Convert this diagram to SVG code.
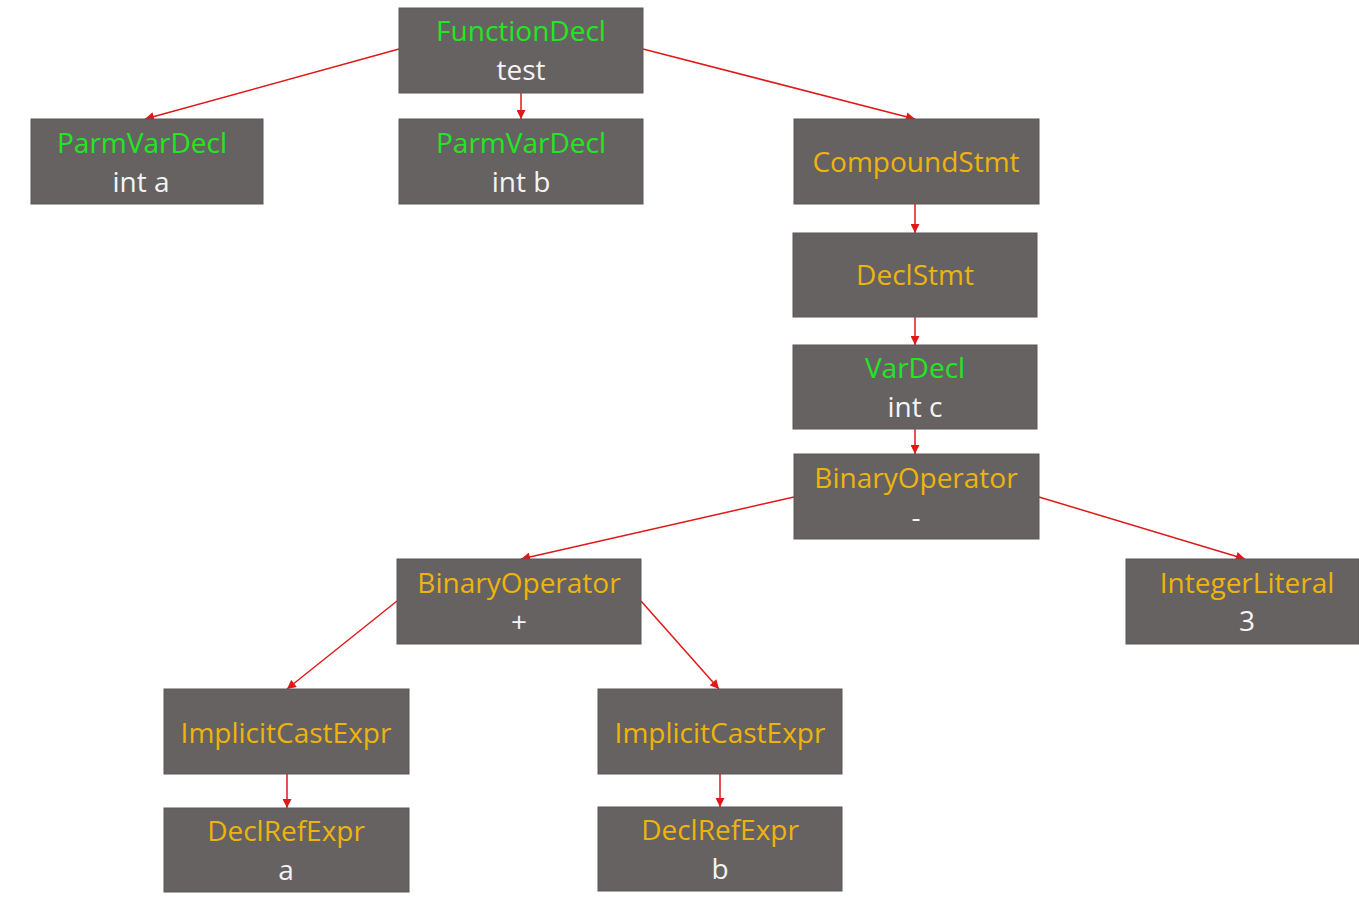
<svg xmlns="http://www.w3.org/2000/svg" width="1359" height="900" viewBox="0 0 1359 900">
<style>
.box{fill:#666262;stroke:#5a5656;stroke-width:1}
text{font-family:"Open Sans","Noto Sans",sans-serif;font-size:28px;text-anchor:middle;dominant-baseline:central}
.g{fill:#22e622}
.o{fill:#edb40c}
.w{fill:#f4f4f4}
.e{stroke:#e01818;stroke-width:1.5;fill:none;marker-end:url(#ah)}
</style>
<defs>
<marker id="ah" viewBox="0 0 10 10" refX="10" refY="5" markerWidth="10" markerHeight="9" orient="auto" markerUnits="userSpaceOnUse">
<path d="M0,0 L10,5 L0,10 z" fill="#e01818"/>
</marker>
</defs>
<rect width="1359" height="900" fill="#ffffff"/>
<g id="connectors">
<line class="e" x1="399" y1="49" x2="145" y2="119"/>
<line class="e" x1="521" y1="93" x2="521" y2="119"/>
<line class="e" x1="643" y1="49" x2="915" y2="119"/>
<line class="e" x1="915" y1="204" x2="915" y2="233"/>
<line class="e" x1="915" y1="317" x2="915" y2="345"/>
<line class="e" x1="915" y1="429" x2="915" y2="454"/>
<line class="e" x1="794" y1="497" x2="521" y2="559"/>
<line class="e" x1="1039" y1="497" x2="1245" y2="559"/>
<line class="e" x1="397" y1="601" x2="287" y2="689"/>
<line class="e" x1="641" y1="601" x2="719" y2="689"/>
<line class="e" x1="287" y1="774" x2="287" y2="808"/>
<line class="e" x1="720" y1="774" x2="720" y2="807"/>
</g>
<g id="n-functiondecl"><rect class="box" x="399" y="8" width="244" height="85"/><text class="g" x="521" y="30">FunctionDecl</text><text class="w" x="521" y="69">test</text></g>
<g id="n-parmvar-a"><rect class="box" x="31" y="119" width="232" height="85"/><text class="g" x="142" y="142">ParmVarDecl</text><text class="w" x="141" y="181">int a</text></g>
<g id="n-parmvar-b"><rect class="box" x="399" y="119" width="244" height="85"/><text class="g" x="521" y="142">ParmVarDecl</text><text class="w" x="521" y="181">int b</text></g>
<g id="n-compound"><rect class="box" x="794" y="119" width="245" height="85"/><text class="o" x="916" y="161">CompoundStmt</text></g>
<g id="n-declstmt"><rect class="box" x="793" y="233" width="244" height="84"/><text class="o" x="915" y="274">DeclStmt</text></g>
<g id="n-vardecl"><rect class="box" x="793" y="345" width="244" height="84"/><text class="g" x="915" y="367">VarDecl</text><text class="w" x="915" y="406">int c</text></g>
<g id="n-binop-minus"><rect class="box" x="794" y="454" width="245" height="85"/><text class="o" x="916" y="477">BinaryOperator</text><text class="w" x="916" y="516">-</text></g>
<g id="n-binop-plus"><rect class="box" x="397" y="559" width="244" height="85"/><text class="o" x="519" y="582">BinaryOperator</text><text class="w" x="519" y="621">+</text></g>
<g id="n-intlit"><rect class="box" x="1126" y="559" width="233" height="85"/><text class="o" x="1247" y="582">IntegerLiteral</text><text class="w" x="1247" y="620">3</text></g>
<g id="n-implicit-left"><rect class="box" x="164" y="689" width="245" height="85"/><text class="o" x="286" y="732">ImplicitCastExpr</text></g>
<g id="n-implicit-right"><rect class="box" x="598" y="689" width="244" height="85"/><text class="o" x="720" y="732">ImplicitCastExpr</text></g>
<g id="n-declref-a"><rect class="box" x="164" y="808" width="245" height="84"/><text class="o" x="286" y="830">DeclRefExpr</text><text class="w" x="286" y="869">a</text></g>
<g id="n-declref-b"><rect class="box" x="598" y="807" width="244" height="84"/><text class="o" x="720" y="829">DeclRefExpr</text><text class="w" x="720" y="868">b</text></g>
</svg>
